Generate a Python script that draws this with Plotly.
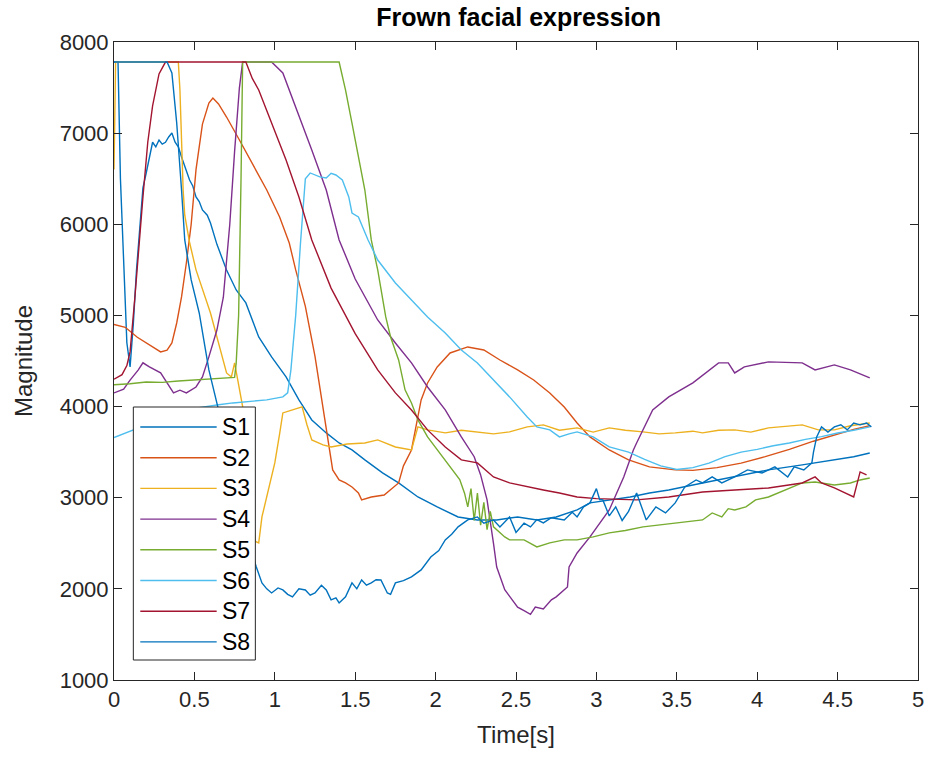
import plotly.graph_objects as go

# ---- measured sensor traces (time in s, magnitude) ----
t_s1 = [0, 0.025, 0.04, 0.06, 0.08, 0.1, 0.12, 0.14, 0.16, 0.18, 0.2, 0.22, 0.24, 0.26, 0.28, 0.3, 0.32, 0.34,
        0.36, 0.38, 0.4, 0.42, 0.45, 0.47, 0.49, 0.51, 0.53, 0.55, 0.58, 0.6, 0.64, 0.7, 0.76, 0.82, 0.9, 0.98,
        1.07, 1.15, 1.23, 1.32, 1.4, 1.48, 1.56, 1.67, 1.77, 1.89, 2.01, 2.14, 2.26, 2.38, 2.51, 2.63, 2.75,
        2.88, 2.96, 3.08, 3.21, 3.33, 3.45, 3.66, 3.86, 4.07, 4.28, 4.48, 4.6, 4.7]
v_s1 = [7780, 7780, 6500, 5500, 4700, 4435, 4900, 5500, 6000, 6400, 6560, 6750, 6900, 6850, 6925, 6880, 6900, 6958,
        7001, 6900, 6850, 6738, 6600, 6486, 6420, 6300, 6250, 6157, 6100, 6014, 5780, 5499, 5279, 5137, 4764, 4545,
        4325, 4073, 3853, 3711, 3601, 3524, 3415, 3272, 3162, 3008, 2899, 2789, 2756, 2756, 2789, 2756, 2789,
        2866, 2943, 2976, 3008, 3052, 3085, 3162, 3228, 3305, 3360, 3415, 3450, 3491]

t_s2 = [0, 0.07, 0.145, 0.2, 0.25, 0.29, 0.33, 0.36, 0.39, 0.42, 0.45, 0.48, 0.51, 0.55, 0.59, 0.615, 0.65, 0.7,
        0.78, 0.86, 0.95, 1.03, 1.09, 1.13, 1.19, 1.25, 1.3, 1.34, 1.36, 1.4, 1.44, 1.48, 1.52, 1.54, 1.6, 1.68,
        1.72, 1.77, 1.8, 1.85, 1.91, 1.95, 2.01, 2.09, 2.2, 2.3, 2.4, 2.51, 2.61, 2.71, 2.8, 2.88, 2.96, 3.08,
        3.2, 3.33, 3.49, 3.6, 3.75, 3.9, 4.05, 4.2, 4.35, 4.5, 4.6, 4.7]
v_s2 = [4900, 4870, 4760, 4698, 4640, 4600, 4620, 4698, 4917, 5203, 5575, 6000, 6600, 7100, 7330, 7386, 7320, 7177,
        6925, 6673, 6376, 6080, 5795, 5499, 5100, 4550, 4000, 3524, 3305, 3195, 3162, 3118, 3052, 2976, 3008, 3030,
        3085, 3162, 3350, 3524, 4073, 4259, 4435, 4588, 4654, 4621, 4511, 4402, 4292, 4150, 3996, 3820, 3667, 3524,
        3415, 3338, 3305, 3300, 3330, 3380, 3450, 3530, 3620, 3700, 3750, 3790]

t_s3 = [0, 0.01, 0.4, 0.41, 0.42, 0.43, 0.44, 0.47, 0.51, 0.6, 0.7, 0.73, 0.75, 0.77, 0.8, 0.83, 0.86, 0.88, 0.9,
        0.92, 0.96, 1.0, 1.03, 1.05, 1.11, 1.17, 1.2, 1.23, 1.3, 1.35, 1.45, 1.56, 1.64, 1.75, 1.85, 1.87, 1.89,
        1.95, 2.06, 2.16, 2.26, 2.36, 2.46, 2.57, 2.67, 2.77, 2.88, 2.98, 3.08, 3.18, 3.29, 3.39, 3.49, 3.6, 3.66,
        3.76, 3.86, 3.96, 4.07, 4.17, 4.28, 4.38, 4.48, 4.58, 4.7]
v_s3 = [6600, 7780, 7780, 7473, 6925, 6376, 6100, 5800, 5500, 5027, 4369, 4325, 4480, 4300, 4000, 3400, 2800, 2520,
        2504, 2789, 3085, 3382, 3700, 3930, 3963, 3996, 3800, 3634, 3580, 3557, 3590, 3601, 3634, 3557, 3524, 3667,
        3777, 3744, 3711, 3740, 3722, 3700, 3722, 3777, 3799, 3740, 3766, 3720, 3766, 3740, 3722, 3700, 3711, 3730,
        3711, 3740, 3744, 3720, 3766, 3780, 3799, 3744, 3744, 3790, 3820]

t_s4 = [0, 0.06, 0.1, 0.15, 0.18, 0.22, 0.29, 0.35, 0.37, 0.41, 0.45, 0.51, 0.55, 0.59, 0.64, 0.68, 0.72, 0.75,
        0.78, 0.8, 0.98, 1.05, 1.13, 1.23, 1.32, 1.4, 1.5, 1.64, 1.75, 1.85, 1.95, 2.06, 2.16, 2.24, 2.28, 2.32,
        2.36, 2.38, 2.43, 2.51, 2.55, 2.59, 2.62, 2.67, 2.72, 2.75, 2.82, 2.83, 2.88, 2.96, 3.08, 3.17, 3.23, 3.25,
        3.35, 3.45, 3.6, 3.68, 3.76, 3.82, 3.86, 3.92, 4.07, 4.28, 4.36, 4.48, 4.58, 4.7]
v_s4 = [4150, 4190, 4290, 4400, 4480, 4435, 4370, 4215, 4150, 4180, 4150, 4215, 4325, 4545, 4840, 5200, 6000, 6800,
        7500, 7780, 7780, 7660, 7287, 6815, 6376, 5828, 5400, 4950, 4698, 4479, 4215, 3963, 3667, 3450, 3250, 2976,
        2500, 2240, 1990, 1800, 1760, 1720, 1800, 1780, 1880, 1912, 2021, 2240, 2394, 2570, 2866, 3228, 3524, 3601,
        3963, 4106, 4260, 4369, 4479, 4479, 4369, 4435, 4490, 4479, 4402, 4457, 4402, 4314]

t_s5 = [0, 0.1, 0.2, 0.3, 0.4, 0.5, 0.6, 0.7, 0.75, 0.76, 0.775, 0.79, 0.8, 1.4, 1.44, 1.48, 1.52, 1.56, 1.6, 1.64,
        1.69, 1.72, 1.77, 1.81, 1.85, 1.89, 1.95, 2.01, 2.09, 2.15, 2.18, 2.2, 2.22, 2.24, 2.26, 2.28, 2.3, 2.32,
        2.34, 2.36, 2.43, 2.46, 2.55, 2.63, 2.71, 2.8, 2.88, 2.98, 3.08, 3.18, 3.29, 3.39, 3.49, 3.58, 3.66, 3.72,
        3.78, 3.82, 3.86, 3.93, 3.99, 4.07, 4.17, 4.28, 4.36, 4.48, 4.58, 4.64, 4.7]
v_s5 = [4240, 4250, 4270, 4265, 4280, 4290, 4300, 4310, 4320, 4480, 5000, 6500, 7780, 7780, 7473, 7111, 6738, 6376,
        5828, 5499, 4983, 4764, 4512, 4183, 4040, 3853, 3667, 3524, 3338, 3200, 3050, 2900, 3100, 2750, 3050, 2700,
        2950, 2650, 2850, 2680, 2570, 2537, 2537, 2460, 2504, 2537, 2537, 2570, 2614, 2640, 2680, 2700, 2723, 2740,
        2756, 2833, 2789, 2880, 2866, 2899, 2976, 3008, 3085, 3162, 3173, 3140, 3162, 3195, 3217]

t_s6 = [0, 0.06, 0.12, 0.2, 0.3, 0.4, 0.5, 0.55, 0.65, 0.74, 0.85, 0.95, 1.05, 1.08, 1.1, 1.13, 1.16, 1.19, 1.22,
        1.25, 1.28, 1.32, 1.35, 1.38, 1.42, 1.46, 1.48, 1.52, 1.58, 1.64, 1.75, 1.85, 1.95, 2.06, 2.16, 2.26, 2.36,
        2.46, 2.57, 2.63, 2.71, 2.77, 2.83, 2.88, 2.98, 3.08, 3.2, 3.3, 3.4, 3.5, 3.6, 3.7, 3.8, 3.9, 4.0, 4.1,
        4.2, 4.3, 4.4, 4.5, 4.6, 4.7]
v_s6 = [3660, 3700, 3744, 3800, 3870, 3930, 3980, 3996, 4020, 4040, 4060, 4073, 4106, 4150, 4400, 5000, 5800, 6500,
        6563, 6541, 6520, 6508, 6560, 6541, 6486, 6300, 6124, 6080, 5828, 5608, 5356, 5170, 4983, 4808, 4621, 4479,
        4292, 4106, 3886, 3777, 3744, 3667, 3700, 3722, 3667, 3557, 3500, 3420, 3350, 3310, 3330, 3380, 3450, 3500,
        3530, 3570, 3600, 3640, 3670, 3710, 3740, 3777]

t_s7 = [0, 0.05, 0.08, 0.1, 0.13, 0.16, 0.18, 0.21, 0.24, 0.28, 0.32, 0.82, 0.86, 0.9, 0.98, 1.07, 1.15, 1.23, 1.35,
        1.5, 1.64, 1.75, 1.85, 1.95, 2.06, 2.16, 2.26, 2.36, 2.46, 2.57, 2.67, 2.77, 2.88, 3.0, 3.25, 3.45, 3.66,
        3.86, 4.07, 4.28, 4.36, 4.4, 4.48, 4.6, 4.62, 4.64, 4.68]
v_s7 = [4300, 4350, 4450, 4600, 5200, 5900, 6300, 6900, 7300, 7650, 7780, 7780, 7600, 7473, 7111, 6706, 6300, 5828,
        5300, 4800, 4402, 4150, 3963, 3744, 3557, 3415, 3382, 3228, 3162, 3118, 3085, 3052, 3008, 2990, 2976, 3008,
        3063, 3085, 3107, 3162, 3228, 3162, 3107, 3008, 3162, 3283, 3250]

t_s8 = [0, 0.33, 0.36, 0.39, 0.42, 0.44, 0.48, 0.53, 0.59, 0.64, 0.7, 0.77, 0.83, 0.885, 0.92, 0.95, 0.98, 1.02,
        1.05, 1.08, 1.11, 1.15, 1.19, 1.22, 1.25, 1.29, 1.32, 1.35, 1.38, 1.4, 1.44, 1.48, 1.51, 1.54, 1.57, 1.6,
        1.63, 1.66, 1.7, 1.72, 1.75, 1.8, 1.85, 1.91, 1.97, 2.02, 2.06, 2.1, 2.14, 2.2, 2.26, 2.3, 2.36, 2.4, 2.46,
        2.5, 2.55, 2.59, 2.63, 2.67, 2.72, 2.8, 2.85, 2.88, 2.92, 2.96, 3.0, 3.02, 3.04, 3.08, 3.12, 3.16, 3.2,
        3.25, 3.31, 3.37, 3.43, 3.49, 3.55, 3.62, 3.66, 3.72, 3.78, 3.86, 3.94, 4.03, 4.11, 4.19, 4.23, 4.29, 4.34,
        4.35, 4.37, 4.4, 4.44, 4.48, 4.52, 4.56, 4.6, 4.64, 4.68, 4.71]
v_s8 = [7780, 7780, 7660, 7111, 6376, 5828, 5389, 5027, 4402, 4040, 3600, 3000, 2550, 2240, 2065, 2000, 1955, 2010,
        1988, 1940, 1912, 2000, 1988, 1930, 1955, 2040, 1988, 1879, 1900, 1846, 1912, 2065, 2000, 2098, 2040, 2065,
        2100, 2098, 1955, 1940, 2065, 2090, 2131, 2208, 2350, 2420, 2537, 2600, 2680, 2756, 2789, 2720, 2756, 2680,
        2789, 2620, 2720, 2680, 2760, 2723, 2780, 2756, 2840, 2789, 2900, 2943, 3100, 2980, 2976, 2800, 2900, 2750,
        2850, 3052, 2756, 2899, 2833, 2943, 3118, 3195, 3162, 3228, 3162, 3228, 3305, 3272, 3338, 3228, 3338, 3305,
        3382, 3500, 3667, 3777, 3720, 3777, 3800, 3744, 3820, 3799, 3820, 3777]

series_names = ["S1", "S2", "S3", "S4", "S5", "S6", "S7", "S8"]
series_t = [t_s1, t_s2, t_s3, t_s4, t_s5, t_s6, t_s7, t_s8]
series_v = [v_s1, v_s2, v_s3, v_s4, v_s5, v_s6, v_s7, v_s8]
series_colors = ["#0072BD", "#D95319", "#EDB120", "#7E2F8E", "#77AC30", "#4DBEEE", "#A2142F", "#0072BD"]

x_ticks = [0, 0.5, 1, 1.5, 2, 2.5, 3, 3.5, 4, 4.5, 5]
x_tick_text = ["0", "0.5", "1", "1.5", "2", "2.5", "3", "3.5", "4", "4.5", "5"]
y_ticks = [1000, 2000, 3000, 4000, 5000, 6000, 7000, 8000]
y_tick_text = ["1000", "2000", "3000", "4000", "5000", "6000", "7000", "8000"]

FONT = "Liberation Sans, Arial, Helvetica, sans-serif"
AX = "#262626"

fig = go.Figure()
for name, t, v, c in zip(series_names, series_t, series_v, series_colors):
    fig.add_trace(go.Scatter(x=t, y=v, mode="lines", name=name,
                             line=dict(color=c, width=1.4), showlegend=False))

# boxed legend in the lower-left corner, drawn in paper coordinates
W, H = 934, 760
ml, mr, mt, mb = 113.5, 10, 42, 80
pw, ph = W - ml - mr, H - mt - mb


def px(x):
    return (x - ml) / pw


def py(y):
    return (H - mb - y) / ph


shapes = [dict(type="rect", xref="paper", yref="paper",
               x0=px(133), x1=px(256), y0=py(660), y1=py(407),
               line=dict(color=AX, width=1), fillcolor="white", layer="above")]
annotations = []
for i, (name, c) in enumerate(zip(series_names, series_colors)):
    yc = 427 + i * 30.7
    shapes.append(dict(type="line", xref="paper", yref="paper",
                       x0=px(140), x1=px(217), y0=py(yc), y1=py(yc),
                       line=dict(color=c, width=1.4), layer="above"))
    annotations.append(dict(xref="paper", yref="paper", x=px(220), y=py(yc),
                            text=name, showarrow=False, xanchor="left", yanchor="middle",
                            font=dict(family=FONT, size=23, color="black")))

fig.update_layout(
    width=W, height=H,
    margin=dict(l=ml, r=mr, t=mt, b=mb),
    paper_bgcolor="white", plot_bgcolor="white",
    font=dict(family=FONT, color=AX),
    title=dict(text="<b>Frown facial expression</b>", x=0.5 * (ml + W - mr) / W, xanchor="center",
               y=1 - 17 / H, yanchor="middle", yref="container",
               font=dict(family=FONT, size=25, color="black")),
    shapes=shapes,
    annotations=annotations,
    showlegend=False,
)
fig.update_xaxes(range=[0, 5], tickvals=x_ticks, ticktext=x_tick_text,
                 ticks="inside", ticklen=8, tickcolor=AX, tickwidth=1,
                 showline=True, linecolor=AX, linewidth=1, mirror="ticks",
                 showgrid=False, zeroline=False,
                 tickfont=dict(family=FONT, size=22, color=AX),
                 title=dict(text="Time[s]", font=dict(family=FONT, size=24, color=AX), standoff=14))
fig.update_yaxes(range=[1000, 8000], tickvals=y_ticks, ticktext=y_tick_text,
                 ticks="inside", ticklen=8, tickcolor=AX, tickwidth=1,
                 showline=True, linecolor=AX, linewidth=1, mirror="ticks",
                 showgrid=False, zeroline=False,
                 tickfont=dict(family=FONT, size=22, color=AX),
                 title=dict(text="Magnitude", font=dict(family=FONT, size=24, color=AX), standoff=20))

fig.write_html("out.html")
